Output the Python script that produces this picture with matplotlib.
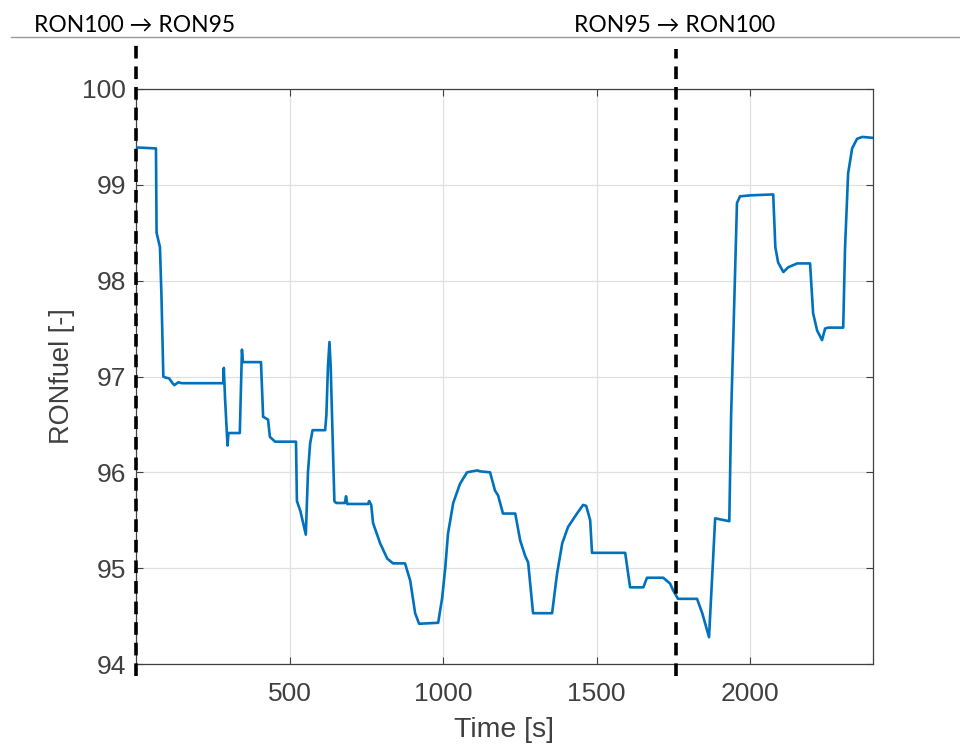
import matplotlib
matplotlib.use("Agg")
import matplotlib.pyplot as plt
from matplotlib.lines import Line2D

# ---- data ----
time_s = [0, 65, 67, 78, 83, 89, 95, 108, 119, 125, 138, 149,
          284, 286, 290, 298, 301, 338, 345, 348, 407, 414, 430, 436, 453, 521,
          524, 535, 553, 560, 567, 575, 616, 620, 625, 630, 634, 640, 646, 652,
          680, 684, 688, 756, 759, 766, 772, 795, 818, 837, 876, 893, 909, 922,
          984, 997, 1007, 1016, 1033, 1055, 1078, 1111, 1121, 1153, 1169, 1179,
          1195, 1235, 1251, 1267, 1277, 1293, 1355, 1371, 1388, 1407, 1436, 1456,
          1466, 1479, 1485, 1593, 1609, 1652, 1664, 1717, 1739, 1749, 1765, 1827,
          1844, 1866, 1879, 1886, 1932, 1938, 1945, 1951, 1957, 1967, 2000, 2075,
          2082, 2091, 2108, 2124, 2153, 2195, 2205, 2218, 2234, 2244, 2254, 2303,
          2309, 2319, 2332, 2348, 2365, 2400]
ron_fuel = [99.39, 99.38, 98.5, 98.35, 97.83, 97.0, 96.99, 96.98, 96.93, 96.91, 96.94, 96.93,
            96.93, 97.09, 96.77, 96.28, 96.41, 96.41, 97.28, 97.15, 97.15, 96.58, 96.55, 96.37, 96.32, 96.32,
            95.7, 95.6, 95.35, 96.0, 96.3, 96.44, 96.44, 96.6, 97.1, 97.36, 97.1, 96.4, 95.7, 95.68,
            95.68, 95.75, 95.67, 95.67, 95.7, 95.66, 95.47, 95.26, 95.1, 95.05, 95.05, 94.87, 94.53, 94.42,
            94.43, 94.69, 95.0, 95.36, 95.68, 95.88, 96.0, 96.02, 96.01, 96.0, 95.81, 95.76,
            95.57, 95.57, 95.29, 95.13, 95.06, 94.53, 94.53, 94.94, 95.26, 95.43, 95.57, 95.66,
            95.65, 95.5, 95.16, 95.16, 94.8, 94.8, 94.9, 94.9, 94.84, 94.77, 94.68, 94.68,
            94.53, 94.28, 95.08, 95.52, 95.49, 96.6, 97.4, 98.1, 98.81, 98.88, 98.89, 98.9,
            98.35, 98.19, 98.09, 98.14, 98.18, 98.18, 97.66, 97.48, 97.38, 97.5, 97.51, 97.51,
            98.35, 99.12, 99.38, 99.48, 99.5, 99.49]

switch_times = [0, 1760]
switch_labels = ["RON100 \u2192 RON95", "RON95 \u2192 RON100"]
x_ticks = [500, 1000, 1500, 2000]
y_ticks = [94, 95, 96, 97, 98, 99, 100]

W, H = 960, 747
fig = plt.figure(figsize=(W / 100, H / 100), dpi=100)
ax = fig.add_axes([136 / W, 1 - 664 / H, 737 / W, 575 / H])

ax.plot(time_s, ron_fuel, color="#0072BD", lw=1.9, zorder=3)
ax.set_xlim(0, 2400)
ax.set_ylim(94, 100)
ax.set_xticks(x_ticks)
ax.set_yticks(y_ticks)
ax.grid(True, color="#e0e0e0", lw=0.9)
ax.set_axisbelow(True)

ax.tick_params(direction="in", length=5, width=0.8, colors="#404040",
               labelsize=19, top=True, right=True, pad=7)
ax.tick_params(axis="x", pad=13)
for lab in ax.get_xticklabels() + ax.get_yticklabels():
    lab.set_fontfamily("Liberation Sans")
    lab.set_color("#404040")
for sp in ax.spines.values():
    sp.set_color("#404040")
    sp.set_linewidth(0.9)

ax.set_xlabel("Time [s]", fontsize=20.5, family="Liberation Sans", color="#404040", labelpad=8)
ax.set_ylabel("RONfuel [-]", fontsize=19.5, family="Liberation Sans", color="#404040", labelpad=5)

# dashed switch lines extending beyond the axes
tops = [100.46, 100.42]
for t, top in zip(switch_times, tops):
    ax.plot([t, t], [93.88, top], color="black", lw=2.6, ls=(0, (3.5, 2.2)),
            clip_on=False, zorder=5)

# header line and labels
fig.add_artist(Line2D([11 / W, 1.0], [1 - 37 / H, 1 - 37 / H], color="#9a9a9a", lw=1.0))
fig.text(34 / W, 1 - 25 / H, switch_labels[0], fontsize=16.5, family=["Lato", "DejaVu Sans"],
         va="center", ha="left", color="black")
fig.text(574 / W, 1 - 25 / H, switch_labels[1], fontsize=16.5, family=["Lato", "DejaVu Sans"],
         va="center", ha="left", color="black")

fig.savefig("out.png", dpi=100)
